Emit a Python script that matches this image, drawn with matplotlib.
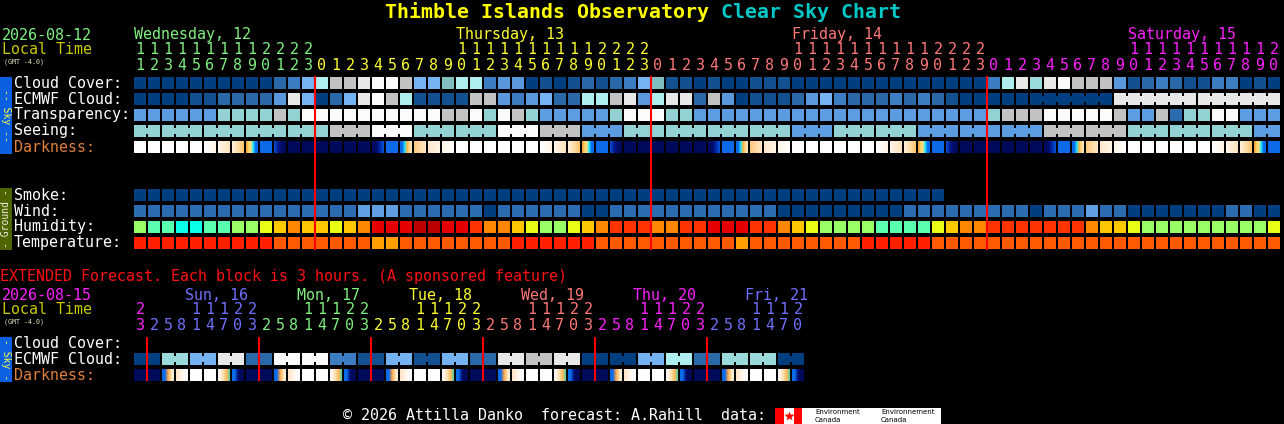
import numpy as np
import matplotlib.pyplot as plt
from matplotlib.colors import to_rgb

plt.rcParams['font.family'] = ['DejaVu Sans Mono', 'DejaVu Sans']

# ---------------- data ----------------
title_a = 'Thimble Islands Observatory '
title_b = 'Clear Sky Chart'

day_names = ['Wednesday, 12', 'Thursday, 13', 'Friday, 14', 'Saturday, 15']
day_colors = ['#80f080', '#ffff30', '#ff7878', '#ff20ff']
day_hours = [list(range(11, 24)), list(range(24)), list(range(24)), list(range(21))]

sky_labels = ['Cloud Cover:', 'ECMWF Cloud:', 'Transparency:', 'Seeing:', 'Darkness:']
ground_labels = ['Smoke:', 'Wind:', 'Humidity:', 'Temperature:']

# cloud levels 0 (clear) .. 11 (overcast)
cloud = [0, 0, 0, 0, 0, 0, 0, 0, 0, 0,
         2, 3, 5, 8, 9, 9, 10, 11, 11, 9,
         5, 5, 6, 8, 8, 3, 4, 4, 0, 1,
         0, 1, 2, 1, 2, 3, 5, 6, 1, 1,
         0, 1, 0, 0, 1, 1, 1, 0, 0, 0,
         0, 0, 0, 0, 0, 0, 0, 0, 0, 0, 0,
         3, 8, 10, 7, 10, 11, 9, 9, 9, 4,
         1, 2, 3, 2, 1, 1, 3, 3, 0, 1, 0]
ecmwf = [0, 0, 0, 0, 1, 1, 2, 2, 2, 2,
         4, 10, 5, 0, 2, 5, 10, 11, 9, 8,
         1, 1, 1, 1, 9, 9, 4, 3, 4, 5,
         2, 2, 8, 8, 9, 10, 4, 8, 10, 10,
         2, 9, 4, 0, 1, 1, 1, 2, 4, 5,
         3, 2, 2, 2, 3, 2, 3, 2, 1, 0,
         0, 0, 0, 0, 0, 0, 0, 0, 0, 0,
         10, 10, 10, 10, 10, 10, 10, 10, 10, 10, 10, 10]
transparency = [2, 2, 2, 2, 2, 2, 3, 3, 3, 3,
                4, 3, 5, 5, 5, 5, 5, 5, 5, 5,
                5, 5, 4, 4, 5, 3, 5, 4, 3, 2,
                2, 2, 2, 2, 3, 5, 5, 5, 3, 3,
                2, 2, 2, 2, 2, 2, 2, 2, 2, 2,
                2, 2, 2, 2, 2, 2, 2, 2, 2, 2,
                2, 3, 4, 4, 4, 5, 5, 5, 5, 5,
                4, 2, 2, 4, 1, 3, 3, 5, 5, 2, 2, 2]
seeing = [3, 3, 3, 3, 3, 3, 3, 3, 3, 3,
          3, 3, 3, 3, 4, 4, 4, 5, 5, 5,
          3, 3, 3, 3, 3, 3, 5, 5, 5, 4,
          4, 4, 2, 2, 2, 3, 3, 3, 3, 3,
          3, 3, 3, 3, 3, 3, 3, 2, 2, 2,
          3, 3, 3, 3, 3, 3, 2, 2, 2, 2,
          2, 2, 2, 2, 2, 4, 4, 4, 4, 4,
          4, 3, 3, 3, 3, 3, 3, 3, 3, 3, 2, 2]
darkness = ('WWWWW123SBdNN'
            'NNNNuBR789WWWWWW123SBdNN'
            'NNNNuBR789WWWWWW123SBdNN'
            'NNNNuBR789WWWWWW123SB')

smoke = [0] * 58
wind = [1, 1, 1, 1, 1, 1, 1, 1, 1, 1,
        1, 1, 1, 1, 1, 1, 2, 2, 2, 1,
        1, 1, 1, 1, 1, 0, 1, 1, 1, 1,
        1, 1, 0, 0, 1, 1, 1, 1, 1, 1,
        1, 1, 1, 1, 1, 1, 0, 0, 0, 0,
        0, 0, 0, 0, 0, 1, 1, 1, 1, 1,
        1, 1, 1, 1, 0, 1, 1, 1, 2, 1,
        1, 0, 0, 0, 0, 0, 0, 0, 1, 1, 0, 0]
humidity = [2, 1, 1, 0, 0, 1, 1, 2, 2, 3,
            4, 5, 4, 4, 3, 4, 5, 7, 7, 7,
            8, 8, 7, 7, 6, 5, 5, 4, 3, 2,
            2, 3, 4, 5, 6, 6, 6, 5, 5, 6,
            6, 7, 7, 7, 6, 6, 5, 4, 3, 2,
            2, 2, 2, 1, 1, 1, 1, 3, 4, 5,
            5, 6, 6, 6, 6, 6, 6, 6, 5, 4,
            4, 3, 2, 2, 2, 2, 2, 2, 2, 2, 2, 3]
temperature = [2, 2, 2, 2, 2, 2, 2, 2, 2, 2,
               1, 1, 1, 1, 1, 1, 1, 0, 0, 1,
               1, 1, 1, 1, 1, 1, 1, 2, 2, 2,
               2, 2, 2, 1, 1, 1, 1, 1, 1, 1,
               1, 1, 1, 0, 1, 1, 1, 1, 1, 1,
               1, 1, 2, 2, 2, 2, 2, 1, 1, 1,
               1, 1, 1, 1, 1, 1, 1, 1, 1, 1,
               1, 1, 1, 1, 1, 1, 1, 1, 1, 1, 1, 1]

# extended forecast, 3 hour blocks
ext_text = 'EXTENDED Forecast. Each block is 3 hours. (A sponsored feature)'
ext_names = ['', 'Sun, 16', 'Mon, 17', 'Tue, 18', 'Wed, 19', 'Thu, 20', 'Fri, 21']
ext_colors = ['#ff20ff', '#7070ff', '#80f080', '#ffff30', '#ff7878', '#ff20ff', '#7070ff']
ext_hours = [[23],
             [2, 5, 8, 11, 14, 17, 20, 23],
             [2, 5, 8, 11, 14, 17, 20, 23],
             [2, 5, 8, 11, 14, 17, 20, 23],
             [2, 5, 8, 11, 14, 17, 20, 23],
             [2, 5, 8, 11, 14, 17, 20, 23],
             [2, 5, 8, 11, 14, 17, 20]]
ext_ecmwf = [0, 0, 7, 7, 5, 5, 10, 10, 2, 2, 11, 11, 11, 11, 3, 3,
             1, 1, 5, 5, 1, 1, 5, 5, 2, 2, 10, 10, 9, 9, 10, 10,
             0, 0, 0, 0, 5, 5, 8, 8, 2, 2, 7, 7, 7, 7, 0, 0]
ext_dark = ('N' + 'NRmWWedN' + 'NRmWWedN' + 'NRmWWedN' + 'NRmWWedN'
            + 'NRmWWedN' + 'NRmWWed')

# ---------------- palettes ----------------
cloud_pal = ['#003f7f', '#13508f', '#2a68a8', '#3c7cc0', '#5a98dc', '#74b2f2',
             '#7fbfbf', '#9adada', '#aeeeee', '#c2c2c2', '#e8e8e8', '#fbfbfb']
sky_pal = ['#003f7f', '#2c6cb0', '#5c9ce0', '#92d2d2', '#c2c2c2', '#fbfbfb']
wind_pal = ['#003f7f', '#2c6cb0', '#5f9fe2']
hum_pal = ['#08ffe8', '#5affb0', '#99ff66', '#eaff16', '#ffc800', '#ff8800',
           '#ff3300', '#e60000', '#bb0000']
temp_pal = ['#ffa000', '#ff5a00', '#ff2000']
dark_pal = {'W': ['#ffffff'],
            '1': ['#ffffff', '#fff2e2'],
            '2': ['#fff6ec', '#ffe2bc'],
            '3': ['#fff0dc', '#ffdca8', '#ffc468'],
            'S': ['#f09830', '#ffcc60', '#ffe080', '#20e8ff', '#0a6ae8', '#0a6ae8'],
            'B': ['#0a6ae8'],
            'd': ['#0c50d8', '#061c90', '#000a60', '#000a60'],
            'N': ['#000a5a'],
            'u': ['#000a60', '#000a60', '#0028a8', '#0a58d8'],
            'R': ['#0a6ae8', '#0a6ae8', '#20e8ff', '#ffb040', '#ffd890', '#ffe8c0'],
            '7': ['#ffc878', '#ffe8c8'],
            '8': ['#ffe8c8', '#fff4e8'],
            '9': ['#fff4e8', '#ffffff']}
ext_dark_pal = {'N': ['#000a5a'],
                'W': ['#ffffff'],
                'R': ['#0a6ae8', '#0a6ae8', '#ffa040', '#ffe0b0', '#fff2e4'],
                'm': ['#ffe4c0', '#fff6ee', '#ffffff'],
                'e': ['#ffffff', '#fff0dc', '#ffd8a0', '#ffb850', '#40d8c0'],
                'd': ['#0a6ae8', '#0a6ae8', '#000a70', '#000a5a', '#000a5a']}

# ---------------- layout ----------------
X0, P, BW = 134, 14, 12
fig = plt.figure(figsize=(12.84, 4.24), dpi=100, facecolor='black')
ax = fig.add_axes([0, 0, 1, 1])
ax.set_facecolor('black')

FS = 10.8
mono = dict(family='DejaVu Sans Mono', fontsize=FS, va='center', ha='left')


def draw_row(vals, pal, top, join=None):
    x = X0 + P * np.arange(len(vals))
    ax.bar(x, BW, width=BW, bottom=top, align='edge',
           color=[pal[v] for v in vals], linewidth=0)
    if join is not None:
        for i in range(len(vals) - 1):
            if join[i]:
                ax.bar(x[i] + BW, 6, width=P - BW, bottom=top + 3, align='edge',
                       color=pal[vals[i]], linewidth=0)


def grad_block(x, top, stops):
    c = np.array([to_rgb(s) for s in stops])
    pos = np.linspace(0, 1, len(c))
    t = (np.arange(BW) + 0.5) / BW
    img = np.stack([np.interp(t, pos, c[:, k]) for k in range(3)], axis=-1)[None, :, :]
    ax.imshow(img, extent=(x, x + BW, top + BW, top), origin='upper',
              interpolation='nearest', aspect='auto')


# title
ax.text(385, 12, title_a, color='#ffff00', fontsize=14.35, fontweight='bold',
        family='DejaVu Sans Mono', va='center', ha='left')
ax.text(385 + 12 * len(title_a), 12, title_b, color='#00c8c8', fontsize=14.35,
        fontweight='bold', family='DejaVu Sans Mono', va='center', ha='left')

# header of main chart
ax.text(2, 35, '2026-08-12', color='#80f080', **mono)
ax.text(2, 50, 'Local Time', color='#c8c800', **mono)
ax.text(4, 62, '(GMT -4.0)', color='#e8e8c0', family='DejaVu Sans Mono',
        fontsize=4.8, va='center', ha='left')

hours, dayix = [], []
for d, hs in enumerate(day_hours):
    hours += hs
    dayix += [d] * len(hs)
i = 0
for d, hs in enumerate(day_hours):
    first = next(k for k, h in enumerate(hs) if h >= 10)
    ax.text(X0 + P * (i + first), 35, day_names[d], color=day_colors[d], **mono)
    if d > 0:
        ax.vlines(X0 + P * i - 1, 76, 250, color='#ff0000', lw=1.5, zorder=5)
    i += len(hs)
for k, (h, d) in enumerate(zip(hours, dayix)):
    xc = X0 + P * k + BW / 2
    ax.text(xc, 65, str(h % 10), color=day_colors[d], family='DejaVu Sans Mono',
            fontsize=FS, va='center', ha='center')
    if h >= 10:
        ax.text(xc, 50, str(h // 10), color=day_colors[d], family='DejaVu Sans Mono',
                fontsize=FS, va='center', ha='center')

# sky rows
tops = [77, 93, 109, 125, 141]
for lab, t in zip(sky_labels, tops):
    ax.text(14, t + 6, lab, color='#e0803c' if lab == 'Darkness:' else 'white', **mono)
draw_row(cloud, cloud_pal, tops[0])
ecmwf_join = [k >= 64 and hours[k + 1] % 6 != 3 for k in range(len(ecmwf) - 1)]
draw_row(ecmwf, cloud_pal, tops[1], ecmwf_join)
draw_row(transparency, sky_pal, tops[2])
seeing_join = [hours[k + 1] % 3 != 1 for k in range(len(seeing) - 1)]
draw_row(seeing, sky_pal, tops[3], seeing_join)
for k, code in enumerate(darkness):
    grad_block(X0 + P * k, tops[4], dark_pal[code])

ax.bar(0, 77, width=12, bottom=77, align='edge', color='#0a60e0', linewidth=0)
ax.text(6, 115.5, '-- Sky --', rotation=-90, color='#ffff40', fontsize=7,
        family='DejaVu Sans Mono', ha='center', va='center')

# ground rows
gtops = [189, 205, 221, 237]
for lab, t in zip(ground_labels, gtops):
    ax.text(14, t + 6, lab, color='white', **mono)
draw_row(smoke, ['#003f7f'], gtops[0])
draw_row(wind, wind_pal, gtops[1])
draw_row(humidity, hum_pal, gtops[2])
draw_row(temperature, temp_pal, gtops[3])
ax.bar(0, 62, width=12, bottom=188, align='edge', color='#4e6400', linewidth=0)
ax.text(6, 219, '- Ground -', rotation=90, color='#f0f0e0', fontsize=7,
        family='DejaVu Sans Mono', ha='center', va='center')

# extended forecast
ax.text(0, 276, ext_text, color='#ff1010', **mono)
ax.text(2, 295, '2026-08-15', color='#ff20ff', **mono)
ax.text(2, 310, 'Local Time', color='#c8c800', **mono)
ax.text(4, 322, '(GMT -4.0)', color='#e8e8c0', family='DejaVu Sans Mono',
        fontsize=4.8, va='center', ha='left')
j = 0
for d, hs in enumerate(ext_hours):
    if ext_names[d]:
        first = next(k for k, h in enumerate(hs) if h >= 10)
        ax.text(X0 + P * (j + first) - 5, 295, ext_names[d], color=ext_colors[d], **mono)
    if d > 0:
        ax.vlines(X0 + P * j - 1, 337, 381, color='#ff0000', lw=1.5, zorder=5)
    for h in hs:
        xc = X0 + P * j + BW / 2
        ax.text(xc, 325, str(h % 10), color=ext_colors[d], family='DejaVu Sans Mono',
                fontsize=FS, va='center', ha='center')
        if h >= 10:
            ax.text(xc, 310, str(h // 10), color=ext_colors[d], family='DejaVu Sans Mono',
                    fontsize=FS, va='center', ha='center')
        j += 1

etops = [337, 353, 369]
for lab, t in zip(['Cloud Cover:', 'ECMWF Cloud:', 'Darkness:'], etops):
    ax.text(14, t + 6, lab, color='#e0803c' if lab == 'Darkness:' else 'white', **mono)
draw_row(ext_ecmwf, cloud_pal, etops[1], [k % 2 == 0 for k in range(len(ext_ecmwf) - 1)])
for k, code in enumerate(ext_dark):
    grad_block(X0 + P * k, etops[2], ext_dark_pal[code])
ax.bar(0, 45, width=12, bottom=337, align='edge', color='#0a60e0', linewidth=0)
ax.text(6, 359.5, '- Sky -', rotation=-90, color='#ffff40', fontsize=7,
        family='DejaVu Sans Mono', ha='center', va='center')

# footer
ax.text(343, 415, '\u00a9 2026 Attilla Danko  forecast: A.Rahill  data:', color='white', **mono)
ax.bar([775, 784, 794], 16, width=[9, 10, 8], bottom=408, align='edge',
       color=['#ff0000', 'white', '#ff0000'], linewidth=0)
ax.plot(789, 416, marker='*', ms=7, color='#ff0000', mec='none')
ax.bar(802, 16, width=139, bottom=408, align='edge', color='white', linewidth=0)
for xt, word in [(815, 'Environment'), (881, 'Environnement')]:
    ax.text(xt, 412, word, color='black', fontsize=5, family='DejaVu Sans',
            va='center', ha='left')
    ax.text(xt, 420, 'Canada', color='black', fontsize=5, family='DejaVu Sans',
            va='center', ha='left')

ax.set_xlim(0, 1284)
ax.set_ylim(424, 0)
ax.set_aspect('auto')
ax.axis('off')
fig.savefig('out.png', dpi=100, facecolor='black')
